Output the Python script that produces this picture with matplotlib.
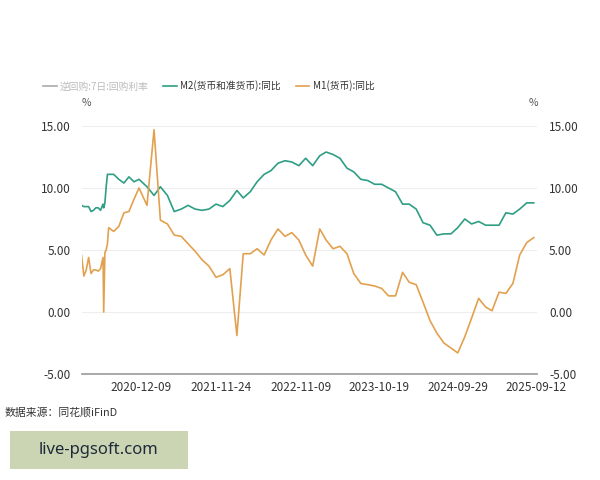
import numpy as np
import pandas as pd
import matplotlib
matplotlib.use("Agg")
import matplotlib.pyplot as plt
import matplotlib.dates as mdates
from matplotlib.lines import Line2D
from matplotlib.patches import Rectangle

plt.rcParams['font.family'] = ['Noto Sans CJK SC', 'DejaVu Sans']

# -----------------------------
# DATA (monthly, year-on-year %)
# -----------------------------
months = pd.date_range("2019-03-31", periods=78, freq="ME")

m1 = [4.6, 2.9, 3.4, 4.4, 3.1, 3.4, 3.4, 3.3, 3.5, 4.4,
      0.0, 4.8, 5.0, 5.5, 6.8, 6.5, 6.9, 8.0, 8.1, 9.1, 10.0, 8.6,
      14.7, 7.4, 7.1, 6.2, 6.1, 5.5, 4.9, 4.2, 3.7, 2.8, 3.0, 3.5,
      -1.9, 4.7, 4.7, 5.1, 4.6, 5.8, 6.7, 6.1, 6.4, 5.8, 4.6, 3.7,
      6.7, 5.8, 5.1, 5.3, 4.7, 3.1, 2.3, 2.2, 2.1, 1.9, 1.3, 1.3,
      3.2, 2.4, 2.2, 0.8, -0.7, -1.7, -2.5, -2.9, -3.3, -2.0, -0.5, 1.1,
      0.4, 0.1, 1.6, 1.5, 2.3, 4.6, 5.6, 6.0]

m2 = [8.6, 8.5, 8.5, 8.5, 8.1, 8.2, 8.4, 8.4, 8.2, 8.7,
      8.4, 8.8, 10.1, 11.1, 11.1, 11.1, 10.7, 10.4, 10.9, 10.5, 10.7, 10.1,
      9.4, 10.1, 9.4, 8.1, 8.3, 8.6, 8.3, 8.2, 8.3, 8.7, 8.5, 9.0,
      9.8, 9.2, 9.7, 10.5, 11.1, 11.4, 12.0, 12.2, 12.1, 11.8, 12.4, 11.8,
      12.6, 12.9, 12.7, 12.4, 11.6, 11.3, 10.7, 10.6, 10.3, 10.3, 10.0, 9.7,
      8.7, 8.7, 8.3, 7.2, 7.0, 6.2, 6.3, 6.3, 6.8, 7.5, 7.1, 7.3,
      7.0, 7.0, 7.0, 8.0, 7.9, 8.3, 8.8, 8.8]

tick_dates = ["2020-12-09", "2021-11-24", "2022-11-09",
              "2023-10-19", "2024-09-29", "2025-09-12"]
y_ticks = [-5, 0, 5, 10, 15]

# -----------------------------
# X SCALE: the source uses a trading-day category axis, so early
# (sparse) dates are squeezed. Model it with a piecewise-linear scale.
# -----------------------------
knot_dates = ["2000-01-01", "2019-03-31", "2019-12-31", "2020-01-31",
              "2020-05-31", "2020-11-30", "2020-12-31", "2025-09-12", "2040-01-01"]
knot_pos = [81.5 - 7031 * 0.2273, 81.5, 103.0, 103.7,
            108.7, 139.0, 147.0, 536.5, 536.5 + 5224 * 0.2273]
kd = mdates.date2num(pd.to_datetime(knot_dates))
kp = np.array(knot_pos)


def fwd(x):
    return np.interp(x, kd, kp)


def inv(p):
    return np.interp(p, kp, kd)


x = mdates.date2num(months)

# -----------------------------
# PLOT
# -----------------------------
fig = plt.figure(figsize=(6, 4.8), dpi=100)
ax = fig.add_axes([81.5 / 600, 1 - 374 / 480, 455 / 600, 248 / 480])

m2_color = "#2e9e84"
m1_color = "#e2a14f"

ax.set_xscale("function", functions=(fwd, inv))
ax.plot(x, m2, color=m2_color, lw=1.2, zorder=3)
ax.plot(x, m1, color=m1_color, lw=1.2, zorder=3)

ax.set_xlim(mdates.date2num(pd.Timestamp("2019-03-31")),
            mdates.date2num(pd.Timestamp("2025-09-12")))
ax.set_ylim(-5, 15)

ax.set_xticks(mdates.date2num(pd.to_datetime(tick_dates)))
ax.set_xticklabels(tick_dates)
ax.xaxis.set_minor_locator(plt.NullLocator())
ax.set_yticks(y_ticks)
ax.set_yticklabels([f"{v:.2f}" for v in y_ticks])
ax.tick_params(axis="both", length=0, labelsize=8.5, colors="#333333")
ax.tick_params(axis="x", pad=5)
ax.tick_params(axis="y", pad=8)

for v in [0, 5, 10, 15]:
    ax.axhline(v, color="#eeeeee", lw=0.8, zorder=1)

for s in ["top", "left", "right"]:
    ax.spines[s].set_visible(False)
ax.spines["bottom"].set_color("#999999")
ax.spines["bottom"].set_linewidth(1.2)

ax2 = ax.twinx()
ax2.set_ylim(-5, 15)
ax2.set_yticks(y_ticks)
ax2.set_yticklabels([f"{v:.2f}" for v in y_ticks])
ax2.tick_params(axis="y", length=0, labelsize=8.5, colors="#333333", pad=9)
for s in ["top", "left", "right", "bottom"]:
    ax2.spines[s].set_visible(False)

# unit labels
fig.text(86 / 600, 1 - 103 / 480, "%", fontsize=7.5, color="#555555", ha="center", va="center")
fig.text(533 / 600, 1 - 103 / 480, "%", fontsize=7.5, color="#555555", ha="center", va="center")

# legend
handles = [Line2D([], [], color="#aaaaaa", lw=1.2),
           Line2D([], [], color=m2_color, lw=1.2),
           Line2D([], [], color=m1_color, lw=1.2)]
labels = ["逆回购:7日:回购利率", "M2(货币和准货币):同比", "M1(货币):同比"]
leg = fig.legend(handles, labels, loc="center left", bbox_to_anchor=(43 / 600, 1 - 86 / 480),
                 ncol=3, frameon=False, fontsize=7, handlelength=1.4,
                 handletextpad=0.35, columnspacing=1.5, borderpad=0, borderaxespad=0)
txts = leg.get_texts()
txts[0].set_color("#bbbbbb")
txts[1].set_color("#333333")
txts[2].set_color("#333333")

# source note
fig.text(5 / 600, 1 - 412 / 480, "数据来源：同花顺iFinD", fontsize=7.8, color="#333333",
         ha="left", va="center")

# watermark box
fig.patches.append(Rectangle((10 / 600, 1 - 469 / 480), 178 / 600, 38 / 480,
                             transform=fig.transFigure, facecolor="#cbd4b3",
                             edgecolor="none", zorder=0))
fig.text(99 / 600, 1 - 450 / 480, "live-pgsoft.com", fontsize=12, color="#1e2a3a",
         family="Noto Sans", ha="center", va="center")

fig.savefig("out.png", dpi=100, facecolor="white")
